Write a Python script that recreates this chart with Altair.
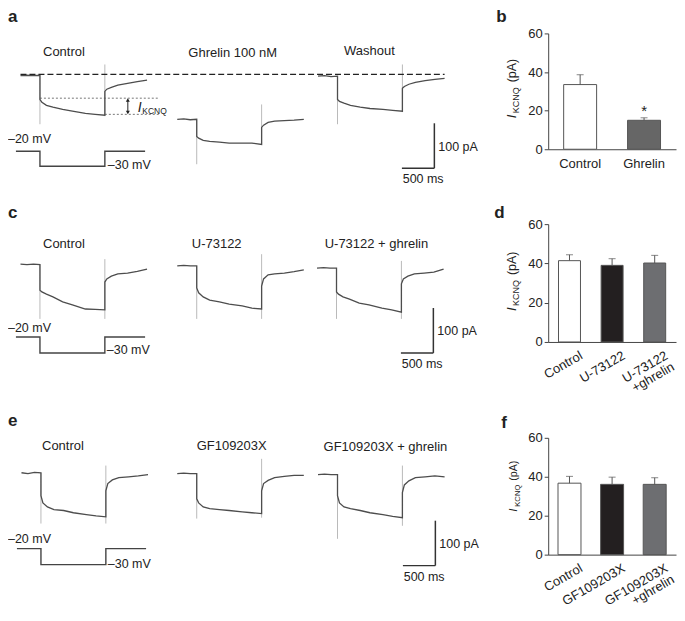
import altair as alt
import pandas as pd

FONT = "Arial"
INK = "#222222"

# ---------------- data ----------------
# sampling grid of each sweep (ms from sweep start)
T_BASE = [0, 100, 200, 300]
T_STEP = [300, 330, 400, 500, 650, 800, 1000, 1150, 1300]
T_TAIL = [1300, 1330, 1400, 1500, 1650, 1800, 1950]
T_ON, T_OFF = 300, 1300

# voltage protocol (ms, mV)
V_T = [-70, 300, 300, 1300, 1300, 1920]
V_MV = [-20, -20, -30, -30, -20, -20]

# panel a currents (pA)
A_NAMES = ["Control", "Ghrelin 100 nM", "Washout"]
A_BASE = [[-3, -2, -3, -2], [-100, -99, -101, -100], [-4, -3, -5, -4]]
A_STEP = [[-56, -62, -69, -73, -78, -82, -87, -89, -91],
          [-138, -142, -147, -149, -151, -153, -153, -153, -156],
          [-56, -60, -64, -69, -73, -76, -78, -80, -82]]
A_TAIL = [[-38, -33, -29, -24, -20, -16, -13],
          [-118, -113, -107, -104, -103, -102, -100],
          [-31, -27, -22, -18, -14, -11, -9]]
A_SPIKE = [[-111, 22, -93], [-200, -67, -156], [-111, 22, -84]]
KCNQ_PEAK, KCNQ_SS = -53, -89

# panel c currents (pA)
C_NAMES = ["Control", "U-73122", "U-73122 + ghrelin"]
C_BASE = [[0, -1, 0, -1], [-4, -3, -4, -4], [-9, -8, -9, -9]]
C_STEP = [[-58, -62, -67, -73, -84, -91, -100, -101, -102],
          [-53, -64, -73, -80, -84, -89, -93, -98, -100],
          [-62, -67, -73, -78, -87, -91, -98, -102, -107]]
C_TAIL = [[-40, -33, -27, -22, -20, -16, -11],
          [-49, -33, -24, -22, -20, -17, -13],
          [-44, -33, -27, -22, -20, -18, -11]]
C_SPIKE = [[-122, 11, -122], [-122, 22, -122], [-122, 7, -122]]

# panel e currents (pA)
E_NAMES = ["Control", "GF109203X", "GF109203X + ghrelin"]
E_BASE = [[0, -2, 1, 0], [-2, -1, -2, -2], [-4, -3, -4, -4]]
E_STEP = [[-51, -67, -76, -82, -84, -89, -93, -96, -98],
          [-58, -67, -76, -80, -82, -84, -87, -89, -91],
          [-51, -67, -76, -80, -84, -89, -93, -97, -100]]
E_TAIL = [[-40, -24, -16, -11, -9, -7, -4],
          [-40, -24, -17, -11, -8, -6, -6],
          [-44, -27, -18, -11, -9, -7, -9]]
E_SPIKE = [[-113, 16, -113], [-102, 31, -100], [-147, 16, -118]]

SCALE_MS, SCALE_PA = 500, 100

# bar charts (I_KCNQ, pA)
B_CATS = ["Control", "Ghrelin"]
B_MEAN = [33.5, 15.0]
B_SEM = [5.1, 1.3]
B_SIG = ["", "*"]
B_COLORS = ["#ffffff", "#666666"]
D_CATS = ["Control", "U-73122", "U-73122\n+ghrelin"]
D_MEAN = [41.4, 39.0, 40.2]
D_SEM = [3.0, 3.4, 3.9]
F_CATS = ["Control", "GF109203X", "GF109203X\n+ghrelin"]
F_MEAN = [36.7, 36.1, 36.1]
F_SEM = [3.5, 3.7, 3.4]
DF_COLORS = ["#ffffff", "#231f20", "#6d6e71"]

# ---------------- layout ----------------
PX_MS = 0.065      # px per ms
PX_PA = 0.45       # px per pA
W_T, W_B = 541, 128
ONE = pd.DataFrame({"z": [0]})


def txt(s, x, y, size=12.5, **kw):
    p = dict(font=FONT, fontSize=size, color=INK, align="center", baseline="middle", text=s)
    p.update(kw)
    return alt.Chart(ONE).mark_text(**p).encode(x=alt.value(x), y=alt.value(y))


def trace_panel(h, names, base, step, tail, spikes, x0, yref, v_px, titles,
                vlab, sbar, letter, kcnq=False):
    xs = alt.Scale(domain=[0, W_T / PX_MS], range=[0, W_T], nice=False, zero=False)
    ys = alt.Scale(domain=[-100, 0], range=[yref + 100 * PX_PA, yref], nice=False, zero=False)

    def X(f):
        return alt.X(f, type="quantitative", scale=xs, axis=None)

    def Y(f):
        return alt.Y(f, type="quantitative", scale=ys, axis=None)

    rows, k = [], 0
    for i, nm in enumerate(names):
        off = x0[i] / PX_MS
        for ts, vs in ((T_BASE, base[i]), (T_STEP, step[i]), (T_TAIL, tail[i])):
            for t, v in zip(ts, vs):
                rows.append({"trace": nm, "t": t + off, "I": v, "k": k})
                k += 1
    df = pd.DataFrame(rows)
    sp = []
    for i in range(len(names)):
        off = x0[i] / PX_MS
        sp.append({"t": T_ON + off, "hi": base[i][-1], "lo": spikes[i][0]})
        sp.append({"t": T_OFF + off, "hi": spikes[i][1], "lo": spikes[i][2]})
    spdf = pd.DataFrame(sp)
    c_off = x0[0] / PX_MS
    vdf = pd.DataFrame({"t": [t + c_off for t in V_T], "mV": V_MV, "k": list(range(len(V_T)))})

    layers = []
    layers.append(alt.Chart(spdf).mark_rule(color="#a8a8a8", strokeWidth=0.8)
                  .encode(x=X("t"), y=Y("hi"), y2="lo"))
    layers.append(alt.Chart(df).mark_line(color="#4d4d4d", strokeWidth=1.3)
                  .encode(x=X("t"), y=Y("I"), detail="trace:N", order="k:Q"))
    layers.append(alt.Chart(vdf).mark_line(color="#444444", strokeWidth=1.4)
                  .encode(x=X("t"),
                          y=alt.Y("mV:Q", scale=alt.Scale(domain=[-30, -20], range=[v_px[1], v_px[0]],
                                                          nice=False, zero=False), axis=None),
                          order="k:Q"))
    # scale bar
    st = sbar[0] / PX_MS
    sI = (yref - sbar[1]) / PX_PA
    sb = pd.DataFrame({"t": [st], "t0": [st - SCALE_MS], "tm": [st - SCALE_MS / 2],
                       "I": [sI], "I1": [sI + SCALE_PA], "Im": [sI + SCALE_PA / 2]})
    layers.append(alt.Chart(sb).mark_rule(color="#333333", strokeWidth=1.5)
                  .encode(x=X("t"), y=Y("I"), y2="I1"))
    layers.append(alt.Chart(sb).mark_rule(color="#333333", strokeWidth=1.5)
                  .encode(x=X("t0"), x2="t", y=Y("I")))
    layers.append(alt.Chart(sb).mark_text(font=FONT, fontSize=12.5, color=INK, align="left",
                                          baseline="middle", dx=4, dy=1, text="100 pA")
                  .encode(x=X("t"), y=Y("Im")))
    layers.append(alt.Chart(sb).mark_text(font=FONT, fontSize=12.5, color=INK, align="center",
                                          baseline="middle", dx=5, dy=11, text="500 ms")
                  .encode(x=X("tm"), y=Y("I")))
    if kcnq:
        t_start = x0[0] / PX_MS
        t_end = x0[-1] / PX_MS + T_TAIL[-1]
        dl = pd.DataFrame({"t0": [t_start], "t1": [t_end], "I": [0]})
        layers.append(alt.Chart(dl).mark_rule(color="#222222", strokeWidth=1.3, strokeDash=[6, 3])
                      .encode(x=X("t0"), x2="t1", y=Y("I")))
        kend = c_off + 2146
        dots = pd.DataFrame({"t0": [c_off + T_ON, c_off + T_OFF], "t1": [kend, kend],
                             "I": [KCNQ_PEAK, KCNQ_SS]})
        layers.append(alt.Chart(dots).mark_rule(color="#555555", strokeWidth=0.8, strokeDash=[2, 2])
                      .encode(x=X("t0"), x2="t1", y=Y("I")))
        ta = c_off + 1654
        arr = pd.DataFrame({"t": [ta], "I0": [KCNQ_PEAK - 4], "I1": [KCNQ_SS + 4]})
        layers.append(alt.Chart(arr).mark_rule(color="#222222", strokeWidth=1)
                      .encode(x=X("t"), y=Y("I0"), y2="I1"))
        layers.append(alt.Chart(arr).mark_point(shape="triangle-up", filled=True, size=16,
                                                color="#222222", opacity=1)
                      .encode(x=X("t"), y=Y("I0")))
        layers.append(alt.Chart(arr).mark_point(shape="triangle-down", filled=True, size=16,
                                                color="#222222", opacity=1)
                      .encode(x=X("t"), y=Y("I1")))
        layers.append(txt("I", 130, 99, size=14, fontStyle="italic", align="left"))
        layers.append(txt("KCNQ", 134.5, 102, size=8.5, align="left"))
    for (s, x, y) in titles:
        layers.append(txt(s, x, y, size=13))
    for (s, x, y) in vlab:
        layers.append(txt(s, x, y, size=12.5, align="left"))
    lt, lx, ly, lb = letter
    layers.append(txt(lt, lx, ly, size=17, fontWeight="bold", align="left", baseline=lb))
    return alt.layer(*layers).properties(width=W_T, height=h).resolve_scale(y="independent")


def bar_panel(h, top, cats, means, sems, colors, bar_w, rotate, letter, ttl, sig=None):
    df = pd.DataFrame({"cat": cats, "mean": means,
                       "hi": [m + s for m, s in zip(means, sems)], "col": colors,
                       "sig": sig if sig else [""] * len(cats)})
    ys = alt.Scale(domain=[0, 60], range=[h, top], nice=False, zero=True)
    xs = alt.Scale(paddingInner=0, paddingOuter=0)
    if rotate:
        xaxis = alt.Axis(title=None, ticks=False, labelAngle=330, labelAlign="right",
                         labelBaseline="top", labelOffset=9, labelPadding=7,
                         labelExpr="split(datum.label, '\\n')", labelFontSize=13,
                         labelLineHeight=13)
    else:
        xaxis = alt.Axis(title=None, ticks=False, labelAngle=0, labelPadding=8, labelFontSize=13)
    yaxis = alt.Axis(title=None, values=[0, 20, 40, 60], tickSize=4, labelPadding=2, grid=False,
                     labelFontSize=13)
    base = alt.Chart(df).encode(x=alt.X("cat:N", sort=cats, scale=xs, axis=xaxis))
    bars = base.mark_bar(size=bar_w, stroke="#555555", strokeWidth=1).encode(
        y=alt.Y("mean:Q", scale=ys, axis=yaxis), color=alt.Color("col:N", scale=None))
    err = base.mark_rule(color="#555555", strokeWidth=1).encode(y="mean:Q", y2="hi:Q")
    cap = base.mark_tick(color="#555555", thickness=1, size=7).encode(y="hi:Q")
    layers = [bars, err, cap]
    if sig:
        layers.append(base.mark_text(font=FONT, fontSize=15, color=INK, dy=-7)
                      .encode(y="hi:Q", text="sig:N"))
    x, yi, yk, yp, s = ttl
    layers.append(txt("I", x, yi, size=13.5 * s, angle=270, align="left", fontStyle="italic"))
    layers.append(txt("KCNQ", x + 4 * s, yk, size=9 * s, angle=270, align="left"))
    layers.append(txt("(pA)", x, yp, size=12.5 * s, angle=270, align="left"))
    lt, lx, ly, lb = letter
    layers.append(txt(lt, lx, ly, size=17, fontWeight="bold", align="left", baseline=lb))
    return alt.layer(*layers).properties(width=W_B, height=h)


pa = trace_panel(192, A_NAMES, A_BASE, A_STEP, A_TAIL, A_SPIKE,
                 [12.5, 169.5, 310.5], 65, (142, 157),
                 [("Control", 56, 43), ("Ghrelin 100 nM", 225, 44), ("Washout", 362, 42)],
                 [("–20 mV", 0, 130), ("–30 mV", 100, 155.5)],
                 (427, 159), ("a", 0, 0, "top"), kcnq=True)
pc = trace_panel(205, C_NAMES, C_BASE, C_STEP, C_TAIL, C_SPIKE,
                 [12.5, 169.5, 309.5], 63, (136, 152),
                 [("Control", 56, 43), ("U-73122", 209, 43), ("U-73122 + ghrelin", 369, 43)],
                 [("–20 mV", 0, 127), ("–30 mV", 99, 149)],
                 (426, 152), ("c", 0, 17, "alphabetic"))
pe = trace_panel(208, E_NAMES, E_BASE, E_STEP, E_TAIL, E_SPIKE,
                 [13.5, 169.5, 310.5], 67, (143, 159),
                 [("Control", 55, 40), ("GF109203X", 224, 40), ("GF109203X + ghrelin", 378, 41)],
                 [("–20 mV", 0, 133), ("–30 mV", 100, 158)],
                 (428, 160), ("e", 0, 20, "alphabetic"))

pb = bar_panel(140, 24, B_CATS, B_MEAN, B_SEM, B_COLORS, 33, False,
               ("b", -52, 0, "top"), (-36, 109, 104, 73, 1.0), sig=B_SIG)
pd_ = bar_panel(141, 23, D_CATS, D_MEAN, D_SEM, DF_COLORS, 22, True,
                ("d", -54, 17, "alphabetic"), (-36, 110, 105, 74, 1.0))
pf = bar_panel(149, 32, F_CATS, F_MEAN, F_SEM, DF_COLORS, 23, True,
               ("f", -47, 22, "alphabetic"), (-34, 106, 101, 75, 0.85))

chart = alt.concat(pa, pb, pc, pd_, pe, pf, columns=2, spacing=0, bounds="flush",
                   align="each", padding=0)
chart = chart.configure_view(stroke=None).configure_axis(
    labelFont=FONT, labelColor=INK, domainColor="#444444", tickColor="#444444", domainWidth=1)

chart.save("out.html", embed_options={"renderer": "svg", "actions": False})
